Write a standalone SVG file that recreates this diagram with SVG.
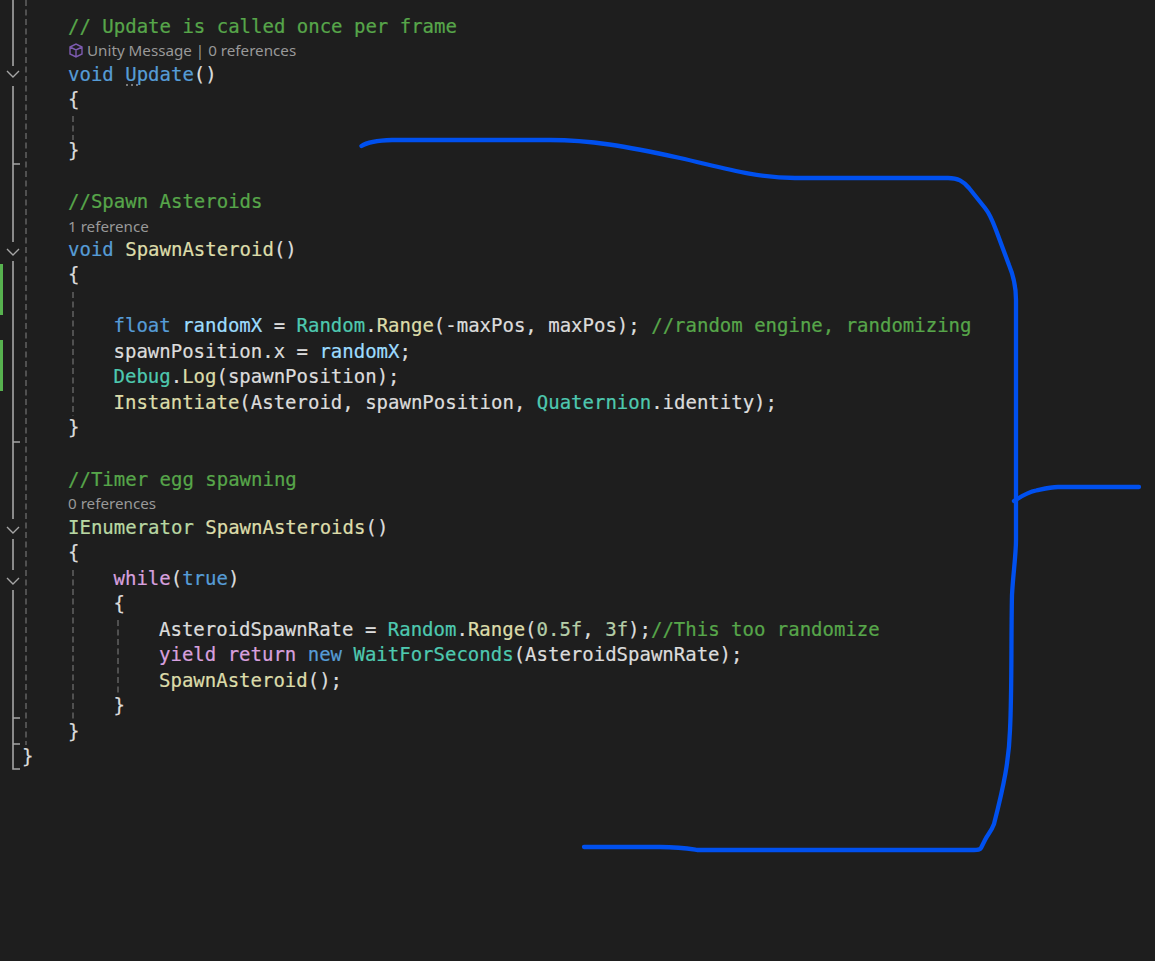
<svg xmlns="http://www.w3.org/2000/svg" width="1155" height="961" viewBox="0 0 1155 961">
<style>
text{font-family:"DejaVu Sans Mono","Liberation Mono",monospace;font-size:19px;fill:#dcdcdc;stroke:#dcdcdc;stroke-width:.22;white-space:pre}
.c{fill:#57a64a;stroke:#57a64a}.k{fill:#569cd6;stroke:#569cd6}.f{fill:#dcdcaa;stroke:#dcdcaa}.t{fill:#4ec9b0;stroke:#4ec9b0}.v{fill:#9cdcfe;stroke:#9cdcfe}.p{fill:#d8a0df;stroke:#d8a0df}.i{fill:#b8d7a3;stroke:#b8d7a3}.n{fill:#b5cea8;stroke:#b5cea8}
.h{font-family:"Noto Sans","Liberation Sans",sans-serif;font-size:15.2px;fill:#999999;stroke:none}
.g{stroke:#a5a5a5;stroke-width:1.6;fill:none}
.d{stroke:#666666;stroke-width:1.4;fill:none;stroke-dasharray:6 3.5}
.ch{stroke:#a5a5a5;stroke-width:1.4;fill:none}
.ink{stroke:#0050ef;stroke-width:4.3;fill:none;stroke-linecap:round;stroke-linejoin:round}
</style>
<rect width="1155" height="961" fill="#1e1e1e"/>
<g id="margin">
<rect x="0" y="264" width="3" height="51" fill="#57b24f"/>
<rect x="0" y="340" width="3" height="51" fill="#57b24f"/>
<path class="d" d="M26 0V745"/>
<path class="g" d="M13 0V66M13 86V164H20M13 164V242M13 261V442H20M13 442V519M13 539V570M13 590V718H20M13 718V769H20M13 744H20"/>
<path class="ch" d="M7 71l6 6 6-6M7 249l6 6 6-6M7 527l6 6 6-6M7 578l6 6 6-6"/>
<path class="d" d="M73 116V140M73 292V416M73 570V720M118 620V695"/>
<path d="M126 85h2M131 85h2M136 85h2" stroke="#999" stroke-width="1.4"/>
<path d="M70 47l6-3 6 3v7l-6 3-6-3zM70 47l6 3 6-3M76 50v7" fill="none" stroke="#7d5bb0" stroke-width="1.4"/>
</g>
<g id="code">
<text x="68" y="33" class="c">// Update is called once per frame</text>
<text x="87" y="55.500" class="h">Unity Message | 0 references</text>
<text x="68" y="81"><tspan class="k">void Update</tspan>()</text>
<text x="68" y="105.500">{</text>
<text x="68" y="156.500">}</text>
<text x="68" y="208" class="c">//Spawn Asteroids</text>
<text x="68" y="231.500" class="h">1 reference</text>
<text x="68" y="256"><tspan class="k">void </tspan><tspan class="f">SpawnAsteroid</tspan>()</text>
<text x="68" y="281">{</text>
<text x="113.500" y="332"><tspan class="k">float </tspan><tspan class="v">randomX</tspan> = <tspan class="t">Random</tspan>.<tspan class="f">Range</tspan>(-maxPos, maxPos); <tspan class="c">//random engine, randomizing</tspan></text>
<text x="113.500" y="358">spawnPosition.x = <tspan class="v">randomX</tspan>;</text>
<text x="113.500" y="383"><tspan class="t">Debug</tspan>.<tspan class="f">Log</tspan>(spawnPosition);</text>
<text x="113.500" y="409"><tspan class="f">Instantiate</tspan>(Asteroid, spawnPosition, <tspan class="t">Quaternion</tspan>.identity);</text>
<text x="68" y="433.500">}</text>
<text x="68" y="486" class="c">//Timer egg spawning</text>
<text x="68" y="508.500" class="h">0 references</text>
<text x="68" y="534"><tspan class="i">IEnumerator </tspan><tspan class="f">SpawnAsteroids</tspan>()</text>
<text x="68" y="558.500">{</text>
<text x="113.500" y="585"><tspan class="p">while</tspan>(<tspan class="k">true</tspan>)</text>
<text x="113.500" y="609.500">{</text>
<text x="159" y="636">AsteroidSpawnRate = <tspan class="t">Random</tspan>.<tspan class="f">Range</tspan>(<tspan class="n">0.5f</tspan>, <tspan class="n">3f</tspan>);<tspan class="c">//This too randomize</tspan></text>
<text x="159" y="661"><tspan class="p">yield return </tspan><tspan class="k">new </tspan><tspan class="t">WaitForSeconds</tspan>(AsteroidSpawnRate);</text>
<text x="159" y="687"><tspan class="f">SpawnAsteroid</tspan>();</text>
<text x="113.500" y="711.500">}</text>
<text x="68" y="737.500">}</text>
<text x="22" y="762.500">}</text>
</g>
<g id="bracket">
<path class="ink" d="M361.500 146C366 143 375 140.500 392 140L550 140C590 140 625 146 680 158C720 167 755 178 795 178L948 178C958 178 963 181 969 188L985 208C990 214 993 222 996 230L1009 265C1014 277 1016 287 1016 300L1016 540C1016 555 1013 575 1012 595C1011 640 1012 690 1010 730C1009 760 1004 785 994 824C991 832 988 834 985 840L981 848C980 850 978 850 974 850L697 850C685 848 680 847 660 847L584 847"/>
<path class="ink" d="M1014 501C1020 497 1028 492 1036 490.500C1045 488.500 1050 487 1058 487L1139 487"/>
</g>
</svg>
